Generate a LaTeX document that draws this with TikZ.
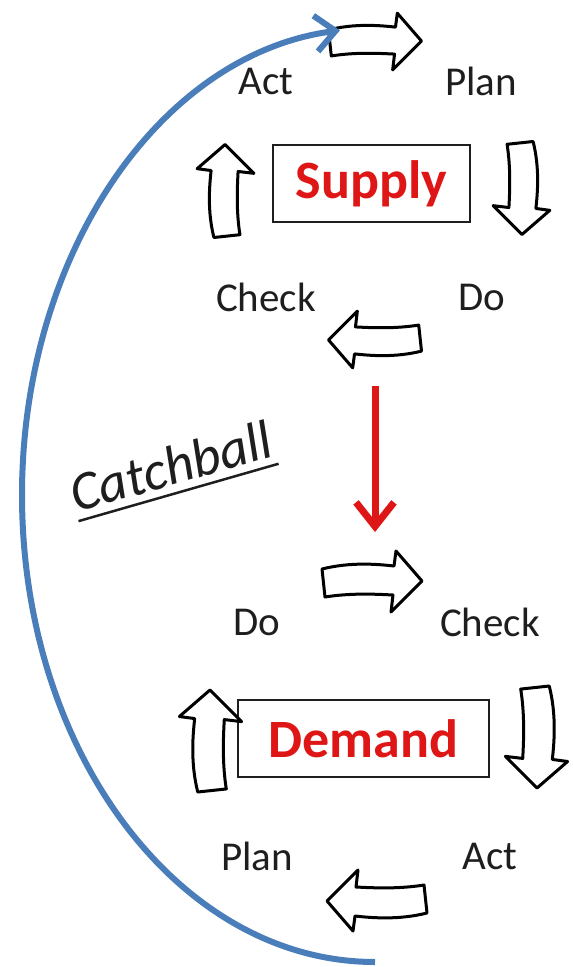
\documentclass[tikz,border=0pt]{standalone}
\usepackage{fontspec}
\setmainfont{Carlito}
\usetikzlibrary{arrows.meta}
\definecolor{catchblue}{RGB}{74,126,187}
\definecolor{pdcared}{RGB}{222,22,22}
\definecolor{inkgray}{RGB}{30,30,30}
\tikzset{
  cyclearrow/.pic={
    \draw[line width=3pt,line join=round,fill=white] (-50,13) .. controls (-22,20) and (4,18) .. (22,16) -- (24,31) -- (50,1) -- (19,-30) -- (21,-13) .. controls (2,-12) and (-22,-11) .. (-47,-15) -- cycle;
  },
  lbl/.style={font=\fontsize{41}{49}\selectfont,text=inkgray,inner sep=0pt},
  mainbox/.style={draw=inkgray,line width=1.6pt,text=pdcared,font=\bfseries\fontsize{54}{64}\selectfont,minimum height=77pt,inner sep=0pt}
}

\begin{document}
\begin{tikzpicture}[x=1pt,y=1pt]
\useasboundingbox (0,0) rectangle (573,-967);
% supply cycle (top)
\node[lbl] (actS) at (266,-81) {Act};
\node[lbl] (planS) at (481,-81) {Plan};
\node[lbl] (checkS) at (266,-297) {Check};
\node[lbl] (doS) at (482,-297) {Do};
\node[mainbox,minimum width=197pt] (supply) at (371.5,-183.5) {Supply};
% demand cycle (bottom)
\node[lbl] (doD) at (257,-622) {Do};
\node[lbl] (checkD) at (490,-622) {Check};
\node[lbl] (planD) at (257,-856) {Plan};
\node[lbl] (actD) at (490,-856) {Act};
\node[mainbox,minimum width=251pt] (demand) at (363.5,-738.5) {Demand};
% block arrows round the boxes: x/y/angle/scale
\foreach \px/\py/\ang/\sc in {375/-42/0/0.93, 521/-188/-90/0.93, 375/-339/180/0.93, 226/-191/90/0.93,
                              372/-582/0/1.0, 536/-737/-90/1.02, 377/-900/180/1.0, 211/-741/90/1.02}
  \pic[rotate=\ang,scale=\sc] at (\px,\py) {cyclearrow};
% supply -> demand
\coordinate (dropstart) at (375,-386);
\coordinate (dropend) at (375,-532);
\draw[pdcared,line width=7pt,-{Straight Barb[length=24pt,width=38pt]}] (dropstart) -- (dropend);
% catchball loop back to the top
\node[font=\itshape\fontsize{55}{66}\selectfont,text=inkgray,rotate=16,inner xsep=0pt,inner ysep=8pt] (catch) at (171,-466) {Catchball};
\draw[line width=2.5pt,inkgray] (catch.south west) -- (catch.south east);
\coordinate (arcfoot) at (375,-962);
\draw[catchblue,line width=6pt,-{Straight Barb[length=20pt,width=36pt]}] (arcfoot) arc[start angle=270,end angle=95.7,x radius=353,y radius=467];
\end{tikzpicture}
\end{document}
